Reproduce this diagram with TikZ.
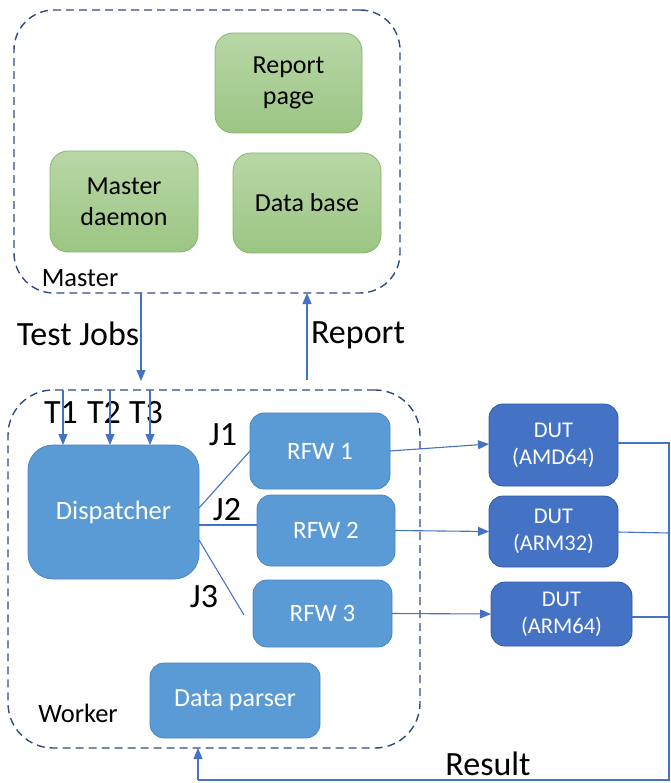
\documentclass[tikz,border=0pt]{standalone}
\usepackage{fontspec}
\setmainfont{Carlito}
\usetikzlibrary{arrows.meta}
\definecolor{gtop}{RGB}{184,215,166}
\definecolor{gbot}{RGB}{156,197,131}
\definecolor{gdraw}{RGB}{132,182,102}
\definecolor{lblue}{RGB}{91,155,213}
\definecolor{lbdraw}{RGB}{74,134,196}
\definecolor{dblue}{RGB}{68,114,196}
\definecolor{dbdraw}{RGB}{50,90,165}
\definecolor{lnc}{RGB}{68,114,196}
\definecolor{dashc}{RGB}{47,75,130}
\tikzset{
  greenbox/.style={draw=gdraw, line width=0.8pt, top color=gtop, bottom color=gbot, rounded corners=18pt, align=center, outer sep=0pt, font=\fontsize{26}{31}\selectfont},
  lbbox/.style={draw=lbdraw, line width=0.8pt, fill=lblue, text=white, rounded corners=14pt, align=center, outer sep=0pt, font=\fontsize{25}{30}\selectfont},
  dutbox/.style={draw=dbdraw, line width=0.8pt, fill=dblue, text=white, rounded corners=14pt, align=center, outer sep=0pt, font=\fontsize{22.5}{27}\selectfont},
  container/.style={draw=dashc, dash pattern=on 8pt off 5pt, line width=1.4pt, outer sep=0pt},
  conn/.style={draw=lnc, line width=1.1pt},
  arr/.style={conn, -{Triangle[length=11pt,width=9pt]}},
  biglbl/.style={font=\fontsize{34}{38}\selectfont, anchor=base},
  smlbl/.style={font=\fontsize{26.5}{30}\selectfont, anchor=base},
}
\begin{document}
\begin{tikzpicture}[x=1pt,y=-1pt]
\useasboundingbox (0,0) rectangle (670,783);
% containers
\node[container, rounded corners=40pt, minimum width=386pt, minimum height=283pt] (master) at (207,151.5) {};
\node[container, rounded corners=45pt, minimum width=412pt, minimum height=358pt] (worker) at (214,569) {};
% master nodes
\node[greenbox, minimum width=147pt, minimum height=100pt] (report) at (288.5,83) {Report\\page};
\node[greenbox, minimum width=148pt, minimum height=101pt] (mdaemon) at (124,201.5) {Master\\daemon};
\node[greenbox, minimum width=148pt, minimum height=100pt] (database) at (307,203) {Data base};
\node[smlbl] (masterlbl) at (80,287) {Master};
% worker nodes
\node[lbbox, rounded corners=25pt, minimum width=171pt, minimum height=134pt, font=\fontsize{26.5}{31}\selectfont] (dispatcher) at (113.5,512) {Dispatcher};
\node[lbbox, minimum width=140pt, minimum height=76pt] (rfw1) at (320,451) {RFW 1};
\node[lbbox, minimum width=138pt, minimum height=71pt] (rfw2) at (326,530.5) {RFW 2};
\node[lbbox, minimum width=139pt, minimum height=67pt] (rfw3) at (322.5,613.5) {RFW 3};
\node[lbbox, minimum width=170pt, minimum height=75pt, font=\fontsize{26}{31}\selectfont] (parser) at (235,700.5) {Data parser};
\node[smlbl] (workerlbl) at (78,722) {Worker};
% DUTs
\node[dutbox, minimum width=129pt, minimum height=82pt] (dut1) at (553.5,445) {DUT\\(AMD64)};
\node[dutbox, minimum width=129pt, minimum height=71pt] (dut2) at (553.5,531.5) {DUT\\(ARM32)};
\node[dutbox, minimum width=141pt, minimum height=64pt] (dut3) at (561.5,614) {DUT\\(ARM64)};
% labels
\node[biglbl] (tjlbl) at (78,345) {Test Jobs};
\node[biglbl] (rplbl) at (358,343) {Report};
\node[biglbl] (t1lbl) at (61,423) {T1};
\node[biglbl] (t2lbl) at (104,423) {T2};
\node[biglbl] (t3lbl) at (146,423) {T3};
\node[biglbl] (j1lbl) at (223,445) {J1};
\node[biglbl] (j2lbl) at (227,520) {J2};
\node[biglbl] (j3lbl) at (204,607) {J3};
\node[biglbl] (reslbl) at (488,775) {Result};
% master <-> worker
\coordinate (tjx) at (141,381);
\coordinate (rpx) at (307,380);
\draw[arr] (tjx |- master.south) -- (tjx);
\draw[arr] (rpx) -- (rpx |- master.south);
% T arrows
\coordinate (t1) at (63,390);
\coordinate (t2) at (110,390);
\coordinate (t3) at (150,390);
\draw[arr] (t1) -- (t1 |- dispatcher.north);
\draw[arr] (t2) -- (t2 |- dispatcher.north);
\draw[arr] (t3) -- (t3 |- dispatcher.north);
% J lines
\coordinate (j1s) at (199,508);
\coordinate (j2s) at (199,525);
\coordinate (j3s) at (199,540);
\coordinate (j3e) at (244,615);
\draw[conn] (j1s) -- (rfw1.west);
\draw[conn] (j2s) -- (j2s -| rfw2.west);
\draw[conn] (j3s) -- (j3e);
% RFW -> DUT
\draw[arr] (rfw1.east) -- (dut1.west |- 0,444);
\draw[arr] (rfw2.east) -- (dut2.west);
\draw[arr] (rfw3.east) -- (dut3.west);
% result path
\coordinate (r1) at (669,443);
\coordinate (rb) at (669,780);
\coordinate (lb) at (198,780);
\draw[conn] (dut1.east |- r1) -- (r1) -- (rb) -- (lb);
\draw[arr] (lb) -- (lb |- worker.south);
\draw[conn] (dut2.east |- 0,532) -- (669,533);
\draw[conn] (dut3.east |- 0,617) -- (669,617);
\end{tikzpicture}
\end{document}
